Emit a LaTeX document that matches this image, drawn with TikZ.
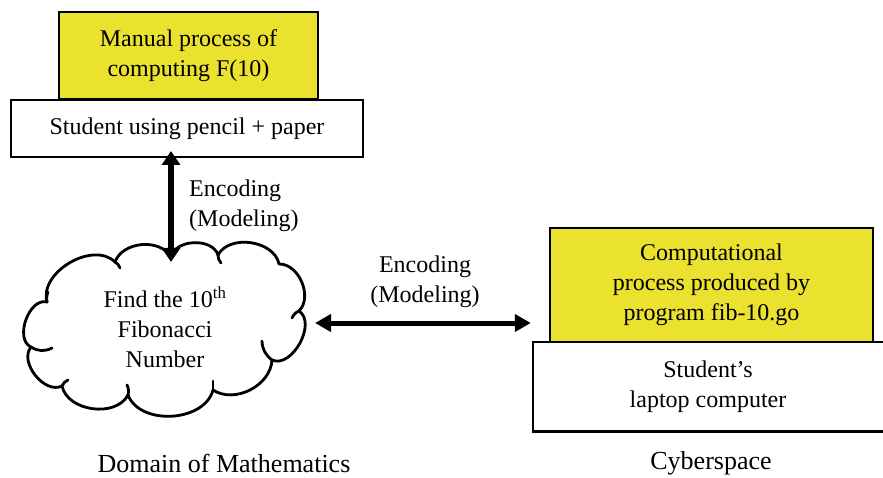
\documentclass[tikz,border=0pt]{standalone}
\usepackage{fontspec}
\setmainfont{Liberation Serif}
\usetikzlibrary{arrows.meta}
\definecolor{boxyellow}{RGB}{234,226,47}
\tikzset{
  lbl/.style={font=\fontsize{24}{30}\selectfont, align=center, inner sep=0pt},
  biglbl/.style={font=\fontsize{26}{30}\selectfont, inner sep=0pt},
  ybox/.style={draw=black, line width=2.6pt, fill=boxyellow, inner sep=0pt, outer sep=0pt, align=center, font=\fontsize{24}{30}\selectfont},
  wbox/.style={draw=black, line width=2.6pt, fill=white, inner sep=0pt, outer sep=0pt, align=center, font=\fontsize{24}{30}\selectfont},
  cloudline/.style={draw=black, line width=2.8pt, line join=round, line cap=round},
  vdblarrow/.style={line width=6.5pt, {Triangle[length=14pt,width=18pt]}-{Triangle[length=14pt,width=18pt]}},
  hdblarrow/.style={line width=5pt, {Triangle[length=16pt,width=17pt]}-{Triangle[length=16pt,width=17pt]}},
}
\begin{document}
\begin{tikzpicture}[x=1pt,y=-1pt]
\useasboundingbox (0,0) rectangle (883,478);
% top-left stack
\node[ybox, minimum width=259pt, minimum height=87pt] (manual) at (188.5,55.5) {Manual process of\\computing F(10)};
\node[wbox, minimum width=352pt, minimum height=57pt] (pencil) at (187,128.5) {Student using pencil + paper};
% right stack
\node[ybox, minimum width=323pt, minimum height=114pt] (comp) at (711.5,285) {Computational\\process produced by\\program fib-10.go};
\node[lbl, minimum width=350pt, minimum height=89pt] (laptop) at (708,386.5) {Student's\\laptop computer};
\draw[line width=2.6pt] (laptop.north east) -- (laptop.north west) -- (laptop.south west) -- (laptop.south east);
% cloud
\coordinate (A) at (47,302);
\coordinate (B) at (115,262);
\coordinate (C) at (171,257);
\coordinate (D) at (218,255);
\coordinate (E) at (279,264);
\coordinate (F) at (299,311);
\coordinate (G) at (272,360);
\coordinate (H) at (213,390);
\coordinate (I) at (128,395);
\coordinate (J) at (62,386);
\coordinate (K) at (31,347);
\coordinate (cr) at (314,323);
\draw[cloudline] (K) to[bend left=85] (A) to[bend left=75] (B) to[bend left=65] (C)
  to[bend left=75] (D) to[bend left=70] (E) to[bend left=68] (F) to[bend left=85] (G)
  to[bend left=60] (H) to[bend left=72] (I) to[bend left=70] (J) to[bend left=78] (K);
% inner hooks
\draw[cloudline] (K) to[bend right=30] (52,348);
\draw[cloudline] (A) to[bend left=15] (48,292);
\draw[cloudline] (B) to[bend left=20] (120,268);
\draw[cloudline] (D) to[bend right=20] (221,263);
\draw[cloudline] (F) to[bend right=20] (292,318);
\draw[cloudline] (G) to[bend left=25] (262,341);
\draw[cloudline] (H) to (213,381);
\draw[cloudline] (I) to[bend right=20] (127,385);
\draw[cloudline] (J) to[bend left=20] (68,380);
\node[lbl] (fib) at (165,327) {Find the 10\textsuperscript{th}\\Fibonacci\\Number};
% arrows
\draw[vdblarrow] ([yshift=6pt]pencil.south -| C) -- ([yshift=-5pt]C);
\node[lbl, anchor=west, align=left] (enc1) at (189,206) {Encoding\\(Modeling)};
\draw[hdblarrow] ([xshift=1pt]cr) -- ([xshift=-2pt]cr -| laptop.west);
\node[lbl] (enc2) at (425,282) {Encoding\\(Modeling)};
% bottom labels
\node[biglbl] (math) at (224,463) {Domain of Mathematics};
\node[biglbl] (cyber) at (711,463) {Cyberspace};
\end{tikzpicture}
\end{document}
